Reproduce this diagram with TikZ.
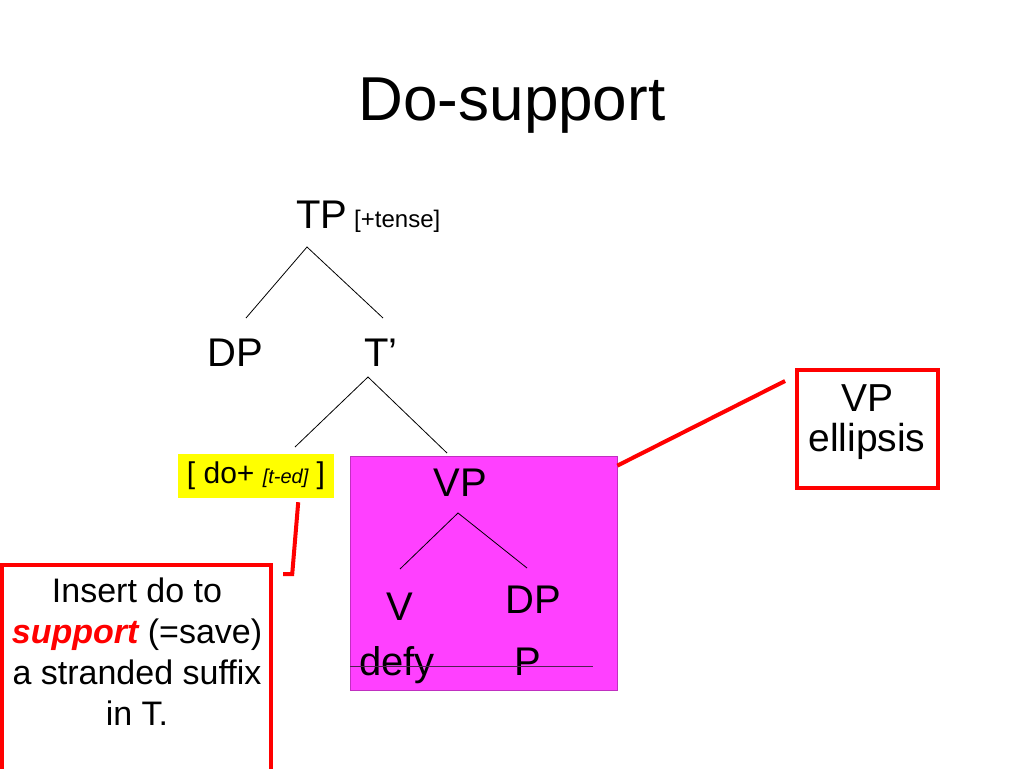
\documentclass[tikz,border=0pt]{standalone}
\usepackage{fontspec}
\setmainfont{Liberation Sans}
\usetikzlibrary{positioning,calc}
\definecolor{cmag}{HTML}{FF40FF}
\definecolor{cmagdark}{HTML}{C030C0}
\definecolor{cred}{HTML}{FF0000}
\definecolor{cyell}{HTML}{FFFF00}
\definecolor{cstrike}{HTML}{502050}
\newcommand{\fsz}[2]{\fontsize{#1}{#2}\selectfont}
\tikzset{
  cat/.style={font=\fsz{40}{48},inner sep=0pt,anchor=base},
  branch/.style={draw=black,line width=0.8pt},
  redline/.style={draw=cred,line width=4pt},
  redbox/.style={draw=cred,line width=4pt,fill=white,align=center,inner sep=0pt},
}

\begin{document}
\begin{tikzpicture}[x=1pt,y=-1pt]
    \useasboundingbox (0,0) rectangle (1024,768);
    \clip (0,0) rectangle (1024,768);
    % title
    \node[font=\fsz{62}{70},inner sep=0pt,anchor=base] (title) at (512,120) {Do-support};
    % highlighted material
    \node[fill=cmag,draw=cmagdark,line width=0.8pt,minimum width=267pt,minimum height=234pt,inner sep=0pt] (vpbox) at (483.5,573) {};
    \node[fill=cyell,minimum width=156pt,minimum height=44pt,inner sep=0pt,font=\fsz{30}{34}] (doplus) at (256,476) {[ do+ {\fsz{20}{22}\itshape\color{black}[t-ed]} ]};
    % tree labels
    \node[cat] (tp) at (322,228) {TP};
    \node[font=\fsz{24}{28},inner sep=0pt,anchor=base west] (tense) at (354,227) {[+tense]};
    \node[cat] (dp) at (235,366) {DP};
    \node[cat] (tbar) at (381,366) {T’};
    \node[cat] (vp) at (460,496) {VP};
    \node[cat] (v) at (400,620) {V};
    \node[cat] (dpobj) at (533,613) {DP};
    \node[cat] (defy) at (397,675) {defy};
    \node[cat] (p) at (528,675) {P};
    % branch ends
    \coordinate (tp-b) at (307,247);
    \coordinate (dp-t) at (246,318);
    \coordinate (tbar-t) at (383,318);
    \coordinate (tbar-b) at (368,377);
    \coordinate (do-t) at (295,447);
    \coordinate (vp-t) at (447,453);
    \coordinate (vp-b) at (458,513);
    \coordinate (v-t) at (400,569);
    \coordinate (dpobj-t) at (527,568);
    \draw[branch] (dp-t) -- (tp-b) -- (tbar-t);
    \draw[branch] (do-t) -- (tbar-b) -- (vp-t);
    \draw[branch] (v-t) -- (vp-b) -- (dpobj-t);
    % strike-through
    \coordinate (strike-l) at (350,666);
    \coordinate (strike-r) at (593,666);
    \draw[cstrike,line width=0.8pt] (strike-l) -- (strike-r);
    % callouts
    \node[redbox,minimum width=141pt,minimum height=118pt] (ellipsis) at (867.5,429) {};
    \node[font=\fsz{39}{40},align=center,inner sep=0pt] (ellipsistext) at (867,422) {VP\\ellipsis};
    \node[redbox,minimum width=269pt,minimum height=240pt] (insertbox) at (136.5,685) {};
    \node[font=\fsz{34}{41},align=center,inner sep=0pt] (insert) at (137,652)
      {Insert do to\\{\color{cred}\bfseries\itshape support} (=save)\\a stranded suffix\\in T.};
    \draw[redline] ([yshift=-10pt]vpbox.north east) -- ([shift={(-10pt,-13pt)}]ellipsis.north west);
    \draw[redline] ([shift={(-36pt,-4pt)}]doplus.south east) -- ++(-6,72) -- ++(-9,0);
\end{tikzpicture}
\end{document}
